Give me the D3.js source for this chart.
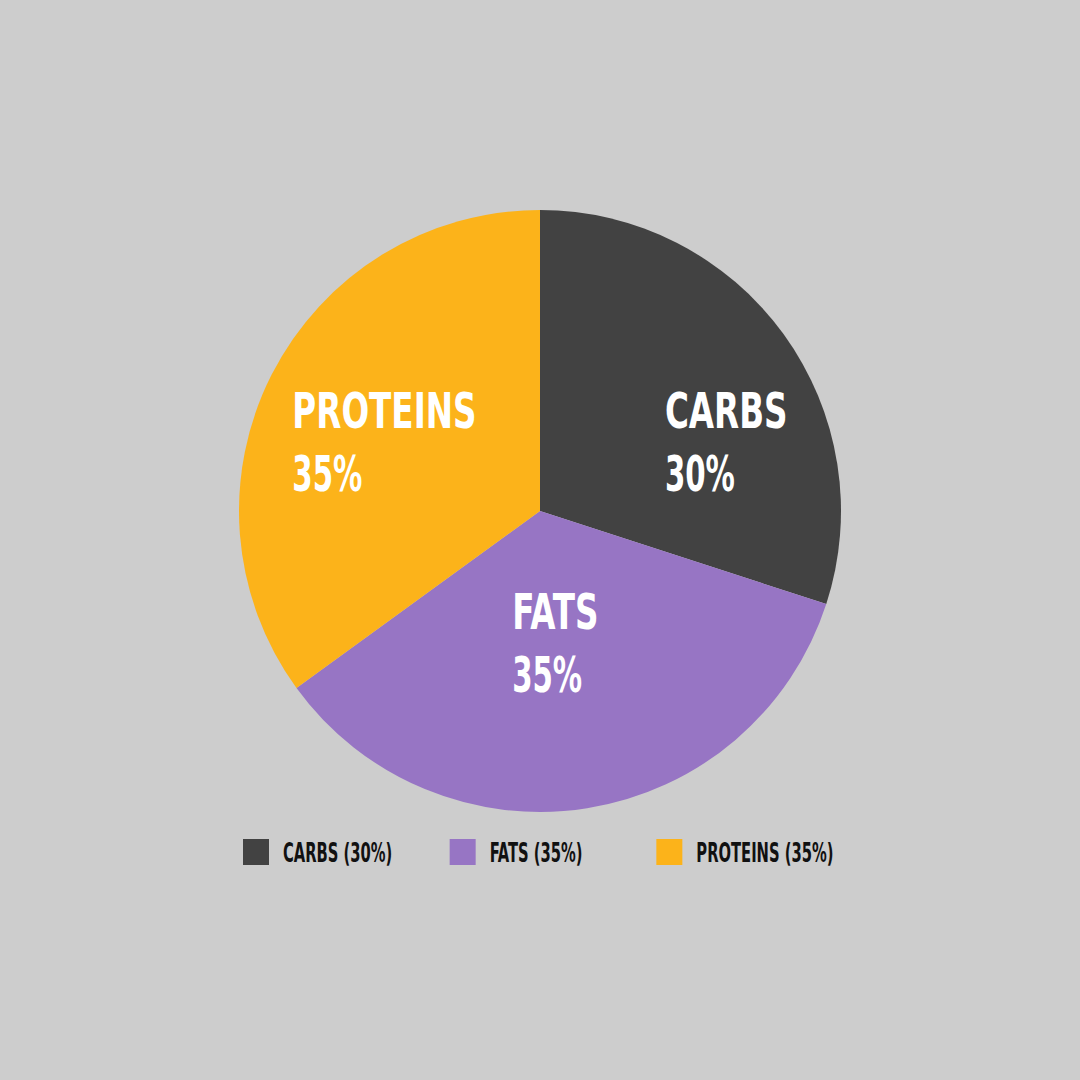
<!DOCTYPE html>
<html>
<head>
<meta charset="utf-8">
<script src="https://cdn.jsdelivr.net/npm/d3@7"></script>
<style>
  html, body { margin: 0; padding: 0; background: #cdcdcd; }
  text { font-family: "Liberation Sans Narrow", "DejaVu Sans Condensed", sans-serif; font-weight: bold; }
</style>
</head>
<body>
<div id="chart"></div>
<script>
// Macro split
const categories = ["CARBS", "FATS", "PROTEINS"];
const shares = [30, 35, 35];
const colors = ["#424242", "#9775c4", "#fcb31a"];

const width = 1080, height = 1080;
const cx = 540, cy = 511, radius = 301;

// hand-placed label nudges (px) from the slice centroid
const labelNudge = [[45, 32], [-12, -42], [0, 8]];

const data = categories.map((c, i) => ({ name: c, value: shares[i], color: colors[i] }));

const svg = d3.select("#chart")
    .append("svg")
    .attr("width", width)
    .attr("height", height);

svg.append("rect")
    .attr("width", width)
    .attr("height", height)
    .attr("fill", "#cdcdcd");

const g = svg.append("g")
    .attr("transform", `translate(${cx},${cy})`);

const pie = d3.pie()
    .value(d => d.value)
    .sort(null);

const arc = d3.arc()
    .innerRadius(0)
    .outerRadius(radius);

const labelArc = d3.arc()
    .innerRadius(radius * 0.58)
    .outerRadius(radius * 0.58);

const pieData = pie(data);

g.selectAll("path")
    .data(pieData)
    .join("path")
    .attr("d", arc)
    .attr("fill", d => d.data.color);

// squeeze text to mimic the narrow hand-drawn face
function condense(sel, k) {
    sel.each(function () {
        const w = this.getComputedTextLength();
        d3.select(this)
            .attr("textLength", w * k)
            .attr("lengthAdjust", "spacingAndGlyphs");
    });
}

// Slice labels
pieData.forEach((d, i) => {
    const [x0, y0] = labelArc.centroid(d);
    const x = x0 + labelNudge[i][0], y = y0 + labelNudge[i][1];
    const lab = g.append("g");
    const t1 = lab.append("text")
        .attr("y", y - 12)
        .attr("fill", "#fff")
        .style("font-size", "50px")
        .text(d.data.name);
    const t2 = lab.append("text")
        .attr("y", y + 51)
        .attr("fill", "#fff")
        .style("font-size", "50px")
        .text(d.data.value + "%");
    condense(t1, 0.725);
    condense(t2, 0.65);
    const bw = Math.max(+t1.attr("textLength"), +t2.attr("textLength"));
    lab.selectAll("text").attr("x", x - bw / 2);
});

// Legend
const legendX = d3.scaleBand()
    .domain(categories)
    .range([243, 863]);

const item = svg.selectAll(".legend")
    .data(data)
    .join("g")
    .attr("class", "legend")
    .attr("transform", d => `translate(${legendX(d.name)},839)`);

item.append("rect")
    .attr("width", 26)
    .attr("height", 26)
    .attr("fill", d => d.color);

item.append("text")
    .attr("x", 40)
    .attr("y", 23)
    .attr("fill", "#111")
    .style("font-size", "26px")
    .text(d => `${d.name} (${d.value}%)`)
    .call(condense, 0.63);
</script>
</body>
</html>
